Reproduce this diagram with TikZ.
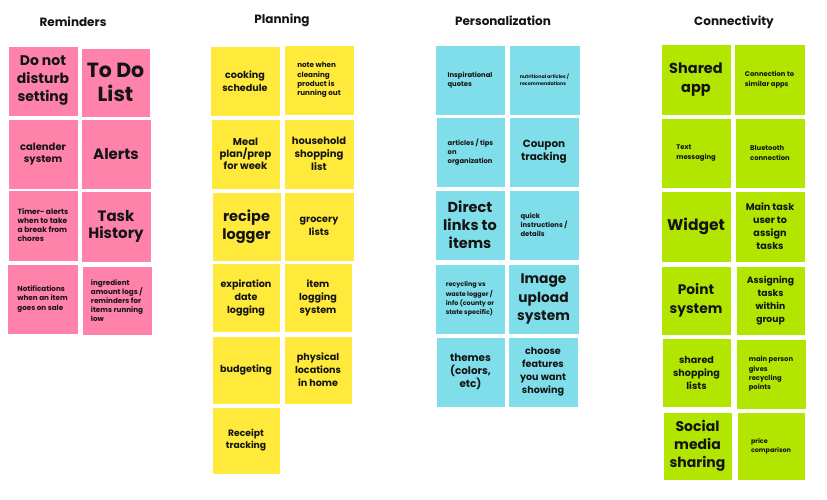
\documentclass[tikz,border=0pt]{standalone}
\usepackage{fontspec}
\setmainfont{Poppins}
\definecolor{pinkc}{RGB}{255,130,170}
\definecolor{yellowc}{RGB}{255,234,59}
\definecolor{cyanc}{RGB}{128,222,234}
\definecolor{greenc}{RGB}{178,230,0}
\definecolor{inkc}{RGB}{20,20,20}
\newcommand\myfs[2]{\fontsize{#1}{#2}\selectfont\bfseries}
\tikzset{
  sticky/.style={draw=white, line width=0.8pt, inner sep=0pt, minimum width=70pt, minimum height=70pt, text=inkc, align=center},
  pinknote/.style={sticky, fill=pinkc},
  yellownote/.style={sticky, fill=yellowc},
  cyannote/.style={sticky, fill=cyanc},
  greennote/.style={sticky, fill=greenc},
  lefttext/.style={align=left},
  header/.style={font=\myfs{12}{14}, text=inkc}
}
\begin{document}
\begin{tikzpicture}[x=1pt,y=-1pt]
\useasboundingbox (0,0) rectangle (827,500);
\fill[white] (0,0) rectangle (827,500);
% headers
\node[header] (h1) at (73,22) {Reminders};
\node[header] (h2) at (282,20) {Planning};
\node[header] (h3) at (503,21) {Personalization};
\node[header] (h4) at (734,22) {Connectivity};
% Reminders
\node[pinknote, font=\myfs{14}{18}] (r1) at (43,81) {Do not\\disturb\\setting};
\node[pinknote, minimum width=69pt, minimum height=69pt, font=\myfs{20.5}{24}] (r2) at (115.5,82.5) {To Do\\List};
\node[pinknote, font=\myfs{10}{12.7}] (r3) at (43,154) {calender\\system};
\node[pinknote, font=\myfs{15}{18}] (r4) at (116,154) {Alerts};
\node[pinknote, minimum height=71pt, lefttext, font=\myfs{7.5}{9}] (r5) at (43,225.5) {Timer- alerts\\when to take\\a break from\\chores};
\node[pinknote, minimum height=71pt, font=\myfs{15}{17.5}] (r6) at (116,226.5) {Task\\History};
\node[pinknote, minimum width=71pt, lefttext, font=\myfs{7.2}{9.5}] (r7) at (42.5,299) {Notifications\\when an item\\goes on sale};
\node[pinknote, minimum height=69pt, lefttext, font=\myfs{7.2}{9}] (r8) at (117,300.5) {ingredient\\amount logs /\\reminders for\\items running\\low};
% Planning
\node[yellownote, font=\myfs{9.6}{13}] (p1) at (245,81) {cooking\\schedule};
\node[yellownote, lefttext, font=\myfs{7.2}{9.3}] (p2) at (319,80) {note when\\cleaning\\product is\\running out};
\node[yellownote, minimum width=69pt, font=\myfs{10}{12}] (p3) at (245.5,154) {Meal\\plan/prep\\for week};
\node[yellownote, font=\myfs{10}{13}] (p4) at (319,154) {household\\shopping\\list};
\node[yellownote, minimum width=69pt, minimum height=69pt, font=\myfs{14.5}{18}] (p5) at (246.5,226.5) {recipe\\logger};
\node[yellownote, minimum height=69pt, font=\myfs{9.6}{12.7}] (p6) at (319,226.5) {grocery\\lists};
\node[yellownote, minimum width=68pt, minimum height=69pt, font=\myfs{9.6}{13}] (p7) at (246,297.5) {expiration\\date\\logging};
\node[yellownote, minimum width=68pt, minimum height=69pt, font=\myfs{9.6}{13}] (p8) at (318,297.5) {item\\logging\\system};
\node[yellownote, minimum width=68pt, minimum height=68pt, font=\myfs{9.6}{13}] (p9) at (246,370) {budgeting};
\node[yellownote, minimum width=68pt, minimum height=68pt, font=\myfs{9.6}{13}] (p10) at (318,370) {physical\\locations\\in home};
\node[yellownote, minimum width=68pt, minimum height=67pt, font=\myfs{9.2}{12}] (p11) at (246,440.5) {Receipt\\tracking};
% Personalization
\node[cyannote, lefttext, font=\myfs{6.8}{9}] (s1) at (470,80) {Inspirational\\quotes};
\node[cyannote, minimum width=71pt, lefttext, font=\myfs{4.8}{7}] (s2) at (544.5,80) {nutritional articles /\\recommendations};
\node[cyannote, minimum width=69pt, lefttext, font=\myfs{6.8}{9}] (s3) at (470.5,152) {articles / tips\\on\\organization};
\node[cyannote, font=\myfs{10.4}{13}] (s4) at (544,152) {Coupon\\tracking};
\node[cyannote, font=\myfs{14.5}{18}] (s5) at (470,225) {Direct\\links to\\items};
\node[cyannote, lefttext, font=\myfs{6.8}{9}] (s6) at (544,225) {quick\\instructions /\\details};
\node[cyannote, lefttext, font=\myfs{6.4}{9.3}] (s7) at (470,299) {recycling vs\\waste logger /\\info (county or\\state specific)};
\node[cyannote, minimum width=71pt, font=\myfs{13.8}{18.3}] (s8) at (543.5,299) {Image\\upload\\system};
\node[cyannote, minimum width=69pt, font=\myfs{10.4}{13}] (s9) at (470.5,372) {themes\\(colors,\\etc)};
\node[cyannote, font=\myfs{9.6}{13}] (s10) at (543,372) {choose\\features\\you want\\showing};
% Connectivity
\node[greennote, minimum height=71pt, font=\myfs{14.5}{19}] (c1) at (696,79.5) {Shared\\app};
\node[greennote, minimum width=71pt, minimum height=71pt, lefttext, font=\myfs{6.8}{9.5}] (c2) at (769.5,79.5) {Connection to\\similar apps};
\node[greennote, lefttext, font=\myfs{6.8}{9.5}] (c3) at (696,153) {Text\\messaging};
\node[greennote, lefttext, font=\myfs{6.8}{9.5}] (c4) at (770,153) {Bluetooth\\connection};
\node[greennote, minimum height=71pt, font=\myfs{15.5}{19}] (c5) at (696,226.5) {Widget};
\node[greennote, minimum height=71pt, font=\myfs{9.6}{13}] (c6) at (770,226.5) {Main task\\user to\\assign\\tasks};
\node[greennote, minimum height=69pt, font=\myfs{13.8}{19}] (c7) at (696,300.5) {Point\\system};
\node[greennote, minimum width=69pt, minimum height=69pt, font=\myfs{9.2}{13}] (c8) at (770.5,300.5) {Assigning\\tasks\\within\\group};
\node[greennote, minimum width=69pt, minimum height=69pt, font=\myfs{9.6}{13}] (c9) at (696.5,372.5) {shared\\shopping\\lists};
\node[greennote, lefttext, font=\myfs{6.8}{9.3}] (c10) at (771,374) {main person\\gives\\recycling\\points};
\node[greennote, minimum width=69pt, minimum height=68pt, font=\myfs{14}{18}] (c11) at (697.5,446) {Social\\media\\sharing};
\node[greennote, minimum width=68pt, minimum height=68pt, lefttext, font=\myfs{6.4}{9}] (c12) at (771,446) {price\\comparison};
\end{tikzpicture}
\end{document}
